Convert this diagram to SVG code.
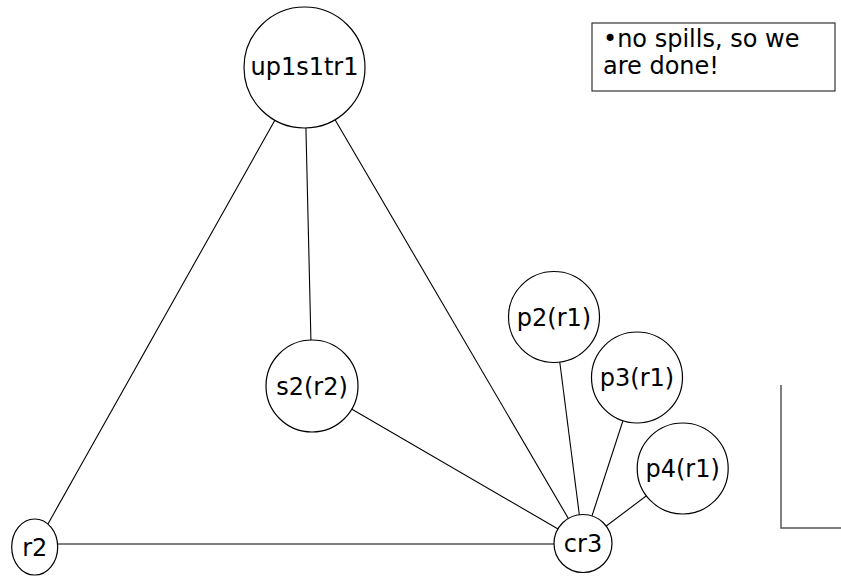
<svg xmlns="http://www.w3.org/2000/svg" width="841" height="576" viewBox="0 0 841 576">
<style>
.n{fill:#fff;stroke:#000;stroke-width:1.2}
.t{font-family:"DejaVu Sans",Verdana,sans-serif;font-size:24px;fill:#000;text-anchor:middle}
.e{stroke:#000;stroke-width:1.1;fill:none}
.b{font-family:"DejaVu Sans",Verdana,sans-serif;font-size:24px;fill:#000}
</style>
<rect width="841" height="576" fill="#fff"/>
<g id="connectors">
<line class="e" x1="304.5" y1="67.5" x2="312" y2="386"/>
<line class="e" x1="304.5" y1="67.5" x2="35" y2="547"/>
<line class="e" x1="304.5" y1="67.5" x2="583" y2="543.5"/>
<line class="e" x1="312" y1="386" x2="583" y2="543.5"/>
<line class="e" x1="554" y1="317" x2="583" y2="543.5"/>
<line class="e" x1="637" y1="377.5" x2="583" y2="543.5"/>
<line class="e" x1="682.7" y1="468.5" x2="583" y2="543.5"/>
<line class="e" x1="35" y1="544" x2="583" y2="544"/>
</g>
<g id="up1s1tr1"><circle class="n" cx="304.5" cy="67.5" r="60.5"/><text class="t" x="304.5" y="75">up1s1tr1</text></g>
<g id="s2r2"><circle class="n" cx="312" cy="386" r="46"/><text class="t" x="312" y="394.5">s2(r2)</text></g>
<g id="p2r1"><circle class="n" cx="554" cy="317" r="45.5"/><text class="t" x="554" y="325.5">p2(r1)</text></g>
<g id="p3r1"><circle class="n" cx="637" cy="377.5" r="45.5"/><text class="t" x="637" y="386">p3(r1)</text></g>
<g id="p4r1"><circle class="n" cx="682.7" cy="468.5" r="45.5"/><text class="t" x="682.7" y="477">p4(r1)</text></g>
<g id="cr3"><circle class="n" cx="583" cy="543.5" r="29"/><text class="t" x="583" y="552">cr3</text></g>
<g id="r2"><ellipse class="n" cx="34.7" cy="547" rx="23" ry="28"/><text class="t" x="34.7" y="555.5">r2</text></g>
<g id="note">
<rect x="592" y="23" width="243" height="68" fill="#fff" stroke="#333" stroke-width="1.2"/>
<text class="b" x="603" y="47">•no spills, so we</text>
<text class="b" x="603" y="74">are done!</text>
</g>
<path d="M781 385V528H841" fill="none" stroke="#555" stroke-width="1.5"/>
</svg>
